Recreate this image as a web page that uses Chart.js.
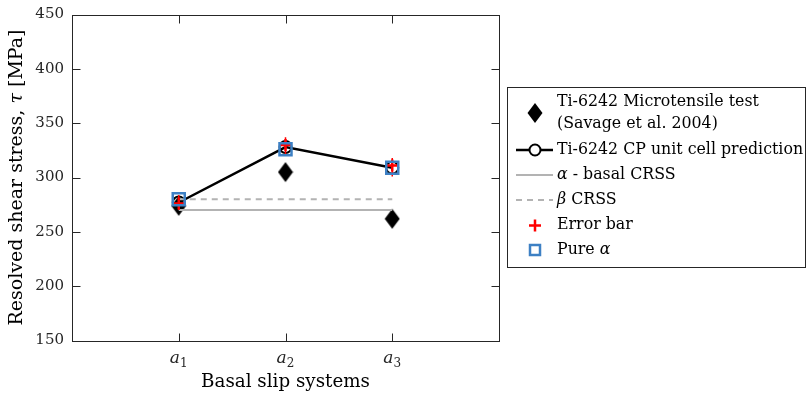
<!DOCTYPE html>
<html><head><meta charset="utf-8">
<script src="https://cdn.jsdelivr.net/npm/chart.js@4"></script>
<style>html,body{margin:0;padding:0;background:#fff;}#wrap{position:relative;width:806px;height:393px;}</style>
</head><body><div id="wrap"><canvas id="c" width="806" height="393"></canvas></div>
<script>
// ---- data ----
const categories = ['a', 'a', 'a'];
const categorySubs = ['1', '2', '3'];
const categoryX = [1, 2, 3];
const microtensile = [274, 305, 262];
const cpPrediction = [277, 328, 309];
const alphaBasalCRSS = 270;
const betaCRSS = 280;
const crssSpan = [1, 3];
const errorCenter = [276, 330, 311];
const errorLow = [270, 320, 301];
const errorHigh = [284, 337, 318];
const pureAlpha = [280, 326, 309];
const yTicks = [150, 200, 250, 300, 350, 400, 450];

const FONT = 'DejaVu Serif';
const AXIS = '#262626';
const BLUE = '#3d80c4';
const GRAY = '#b3b3b3';

const diamondImg = (() => {
  const c = document.createElement('canvas'); c.width = 16; c.height = 22;
  const g = c.getContext('2d'); g.fillStyle = '#000';
  g.beginPath(); g.moveTo(8, 1); g.lineTo(15.5, 11); g.lineTo(8, 21); g.lineTo(0.5, 11); g.closePath(); g.fill();
  return c;
})();

const pts = arr => arr.map((v, i) => ({ x: categoryX[i], y: v }));
const errData = [];
categoryX.forEach((x, i) => { errData.push({ x, y: errorLow[i] }, { x, y: errorHigh[i] }, { x, y: null }); });

function drawParts(ctx, parts, x, y) {
  let cx = x;
  parts.forEach(p => { ctx.font = p[1]; ctx.fillText(p[0], cx, y); cx += ctx.measureText(p[0]).width; });
  return cx - x;
}
function measureParts(ctx, parts) {
  let w = 0; parts.forEach(p => { ctx.font = p[1]; w += ctx.measureText(p[0]).width; }); return w;
}

const framePlugin = {
  id: 'frame',
  afterDraw(chart) {
    const { ctx, chartArea: a, scales } = chart;
    ctx.save();
    ctx.strokeStyle = AXIS; ctx.lineWidth = 1;
    const L = Math.round(a.left) + 0.5, R = Math.round(a.right) + 0.5, T = Math.round(a.top) + 0.5, B = Math.round(a.bottom) + 0.5;
    ctx.strokeRect(L, T, R - L, B - T);
    const tl = 8;
    ctx.beginPath();
    scales.y.ticks.forEach(t => {
      const y = Math.round(scales.y.getPixelForValue(t.value)) + 0.5;
      ctx.moveTo(L, y); ctx.lineTo(L + tl, y);
      ctx.moveTo(R, y); ctx.lineTo(R - tl, y);
    });
    scales.x.ticks.forEach(t => {
      const x = Math.round(scales.x.getPixelForValue(t.value)) + 0.5;
      ctx.moveTo(x, B); ctx.lineTo(x, B - tl);
      ctx.moveTo(x, T); ctx.lineTo(x, T + tl);
    });
    ctx.stroke();

    // x tick labels: italic a with subscript
    ctx.fillStyle = AXIS; ctx.textBaseline = 'alphabetic'; ctx.textAlign = 'left';
    scales.x.ticks.forEach(t => {
      const i = categoryX.indexOf(t.value);
      const px = scales.x.getPixelForValue(t.value);
      const fa = 'italic 17px ' + FONT, fs = '12px ' + FONT;
      ctx.font = fa; const wa = ctx.measureText(categories[i]).width;
      ctx.font = fs; const ws = ctx.measureText(categorySubs[i]).width;
      const x0 = px - (wa + ws) / 2;
      ctx.font = fa; ctx.fillText(categories[i], x0, 363);
      ctx.font = fs; ctx.fillText(categorySubs[i], x0 + wa, 367);
    });

    // y title with italic tau
    ctx.fillStyle = '#000';
    const tf = '19px ' + FONT, tfi = 'italic 19px ' + FONT;
    const parts = [['Resolved shear stress, ', tf], ['τ', tfi], [' [MPa]', tf]];
    const tw = measureParts(ctx, parts);
    ctx.translate(17, (a.top + a.bottom) / 2);
    ctx.rotate(-Math.PI / 2);
    ctx.textBaseline = 'middle';
    drawParts(ctx, parts, -tw / 2, 0);
    ctx.setTransform(1, 0, 0, 1, 0, 0);

    // legend
    const lx = 507.5, ly = 87.5, lw = 298, lh = 180;
    ctx.fillStyle = '#fff'; ctx.fillRect(lx, ly, lw, lh);
    ctx.strokeStyle = AXIS; ctx.lineWidth = 1; ctx.strokeRect(lx, ly, lw, lh);
    ctx.fillStyle = '#000'; ctx.textBaseline = 'middle'; ctx.textAlign = 'left';
    const tx = 557, fs = '15.8px ' + FONT, fsi = 'italic 15.8px ' + FONT;
    const mid = 535;
    ctx.font = fs;
    ctx.drawImage(diamondImg, mid - 8, 113 - 11);
    ctx.fillText('Ti-6242 Microtensile test', tx, 102);
    ctx.fillText('(Savage et al. 2004)', tx, 124);
    ctx.strokeStyle = '#000'; ctx.lineWidth = 2.5;
    ctx.beginPath(); ctx.moveTo(516, 150); ctx.lineTo(553, 150); ctx.stroke();
    ctx.lineWidth = 2; ctx.fillStyle = '#fff';
    ctx.beginPath(); ctx.arc(mid, 150, 5.5, 0, Math.PI * 2); ctx.fill(); ctx.stroke();
    ctx.fillStyle = '#000';
    ctx.fillText('Ti-6242 CP unit cell prediction', tx, 150);
    ctx.strokeStyle = GRAY; ctx.lineWidth = 2;
    ctx.beginPath(); ctx.moveTo(516, 175); ctx.lineTo(553, 175); ctx.stroke();
    drawParts(ctx, [['α', fsi], [' - basal CRSS', fs]], tx, 175);
    ctx.setLineDash([6, 5]);
    ctx.beginPath(); ctx.moveTo(516, 200); ctx.lineTo(553, 200); ctx.stroke();
    ctx.setLineDash([]);
    drawParts(ctx, [['β', fsi], [' CRSS', fs]], tx, 200);
    ctx.strokeStyle = '#ff0000'; ctx.lineWidth = 2.5;
    ctx.beginPath(); ctx.moveTo(mid - 6, 225.5); ctx.lineTo(mid + 6, 225.5); ctx.moveTo(mid, 219.5); ctx.lineTo(mid, 231.5); ctx.stroke();
    ctx.font = fs; ctx.fillText('Error bar', tx, 225);
    ctx.strokeStyle = BLUE; ctx.lineWidth = 2.5;
    ctx.strokeRect(mid - 5, 245, 10, 10);
    drawParts(ctx, [['Pure ', fs], ['α', fsi]], tx, 250);
    ctx.restore();
  }
};

new Chart(document.getElementById('c'), {
  type: 'scatter',
  data: {
    datasets: [
      { label: 'Ti-6242 Microtensile test (Savage et al. 2004)', data: pts(microtensile), pointStyle: diamondImg, order: 6 },
      { label: 'Ti-6242 CP unit cell prediction', data: pts(cpPrediction), showLine: true, borderColor: '#000', borderWidth: 2.5,
        pointStyle: 'circle', pointRadius: 6, pointBorderWidth: 2, pointBorderColor: '#000', pointBackgroundColor: 'rgba(0,0,0,0)', order: 5 },
      { label: 'α - basal CRSS', data: crssSpan.map(x => ({ x, y: alphaBasalCRSS })), showLine: true, borderColor: GRAY, borderWidth: 2, pointRadius: 0, order: 4 },
      { label: 'β CRSS', data: crssSpan.map(x => ({ x, y: betaCRSS })), showLine: true, borderColor: GRAY, borderWidth: 2, borderDash: [6, 5], pointRadius: 0, order: 3 },
      { label: 'Error bar range', data: errData, showLine: true, spanGaps: false, borderColor: '#ff0000', borderWidth: 1.5, pointRadius: 0, order: 2 },
      { label: 'Error bar', data: pts(errorCenter), pointStyle: 'cross', pointRadius: 6, pointBorderWidth: 2.5, pointBorderColor: '#ff0000', order: 1 },
      { label: 'Pure α', data: pts(pureAlpha), pointStyle: 'rect', pointRadius: 8.5, pointBorderWidth: 2.5, pointBorderColor: BLUE, pointBackgroundColor: 'rgba(0,0,0,0)', order: 0 }
    ]
  },
  options: {
    responsive: false, animation: false, devicePixelRatio: 1,
    layout: { padding: { left: 0, right: 307, top: 14.5, bottom: 0 } },
    plugins: { legend: { display: false }, tooltip: { enabled: false } },
    scales: {
      x: {
        type: 'linear', min: 0, max: 4,
        afterBuildTicks: s => { s.ticks = categoryX.map(v => ({ value: v })); },
        afterFit: s => { s.height = 52.5; s.paddingLeft = 0; s.paddingRight = 0; },
        grid: { display: false, drawTicks: false }, border: { display: false },
        ticks: { display: false },
        title: { display: true, text: 'Basal slip systems', color: '#000', font: { family: FONT, size: 18.3 }, padding: { top: 0, bottom: 0 } }
      },
      y: {
        min: 150, max: 450,
        afterBuildTicks: s => { s.ticks = yTicks.map(v => ({ value: v })); },
        afterFit: s => { s.width = 72; s.paddingTop = 0; s.paddingBottom = 0; },
        grid: { display: false, drawTicks: false }, border: { display: false },
        ticks: { padding: 8, color: AXIS, font: { family: FONT, size: 15 } },
        title: { display: false }
      }
    }
  },
  plugins: [framePlugin]
});
</script>
</body></html>
